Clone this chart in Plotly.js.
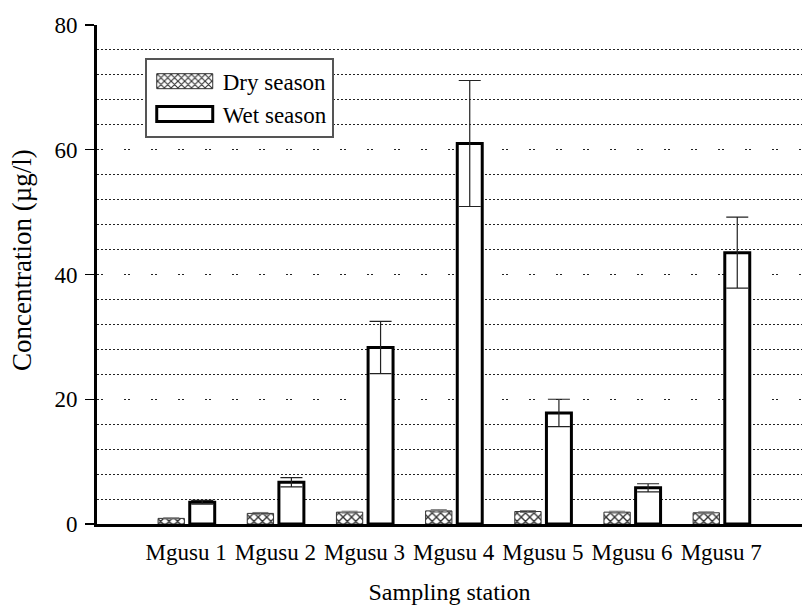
<!DOCTYPE html>
<html>
<head>
<meta charset="utf-8">
<script src="https://cdn.plot.ly/plotly-3.0.1.min.js"></script>
<style>html,body{margin:0;padding:0;background:#fff;}#chart{width:802px;height:605px;}</style>
</head>
<body>
<div id="chart"></div>
<script>
var stations = ["Mgusu 1", "Mgusu 2", "Mgusu 3", "Mgusu 4", "Mgusu 5", "Mgusu 6", "Mgusu 7"];
var dryValues = [0.9, 1.7, 1.9, 2.1, 2.0, 1.9, 1.8];
var dryErrors = [0.1, 0.15, 0.15, 0.2, 0.15, 0.15, 0.15];
var wetValues = [3.5, 6.7, 28.3, 61.0, 17.8, 5.8, 43.5];
var wetErrors = [0.3, 0.75, 4.2, 10.1, 2.2, 0.65, 5.7];
var yTicks = [0, 20, 40, 60, 80];
var yTitle = "Concentration (µg/l)";
var xTitle = "Sampling station";

var FONT = "'Liberation Serif', 'Times New Roman', Times, serif";

var minorVals = [];
for (var v = 4; v < 80; v += 4) { if (v % 20 !== 0) minorVals.push(v); }

var dry = {
  type: "bar", name: "Dry season", x: stations, y: dryValues,
  width: 0.295, offset: -0.315,
  marker: {color: "white", line: {color: "#333", width: 1},
    pattern: {shape: "x", size: 6, solidity: 0.4, fgcolor: "#333", bgcolor: "white", fillmode: "replace"}},
  error_y: {type: "data", array: dryErrors, visible: true, color: "#777", thickness: 1, width: 8}
};
var wet = {
  type: "bar", name: "Wet season", x: stations, y: wetValues,
  width: 0.28, offset: 0.04,
  marker: {color: "white", line: {color: "black", width: 3}},
  error_y: {type: "data", array: wetErrors, visible: true, color: "#222", thickness: 1.2, width: 11}
};

var layout = {
  width: 802, height: 605,
  margin: {l: 97, r: 0, t: 25, b: 81},
  paper_bgcolor: "white", plot_bgcolor: "white",
  font: {family: FONT, size: 23, color: "black"},
  showlegend: true,
  legend: {x: 0.068, y: 0.934, xanchor: "left", yanchor: "top",
    bgcolor: "white", bordercolor: "#555", borderwidth: 1.8,
    font: {family: FONT, size: 23, color: "black"}, itemwidth: 66, tracegroupgap: 0,
    entrywidth: 200, entrywidthmode: "pixels"},
  xaxis: {
    type: "category", range: [-1, 6.906],
    showline: true, linecolor: "black", linewidth: 3,
    ticks: "", showgrid: false, zeroline: false,
    tickfont: {family: FONT, size: 23, color: "black"},
    ticklabelstandoff: 5,
    title: {text: xTitle, font: {family: FONT, size: 24, color: "black"}, standoff: 21}
  },
  yaxis: {
    range: [0, 80], tickvals: yTicks, ticktext: yTicks.map(String),
    showline: true, linecolor: "black", linewidth: 3,
    ticks: "outside", ticklen: 9, tickwidth: 1.2, tickcolor: "black",
    zeroline: false,
    showgrid: true, gridcolor: "#222", gridwidth: 1, griddash: "2px,2px,2px,21px",
    minor: {tickmode: "array", tickvals: minorVals, showgrid: true, gridcolor: "#222", gridwidth: 1, griddash: "2px,2px", ticks: ""},
    tickfont: {family: FONT, size: 23, color: "black"},
    ticklabelstandoff: 3,
    title: {text: ""}
  },
  annotations: [{
    text: yTitle, xref: "paper", yref: "paper",
    x: (22 - 97) / 705, y: (524 - 260) / 499, xanchor: "center", yanchor: "middle",
    textangle: -90, showarrow: false,
    font: {family: FONT, size: 27, color: "black"}
  }],
  bargap: 0
};

Plotly.newPlot("chart", [dry, wet], layout, {staticPlot: true}).then(function(gd){
  var paths = gd.querySelectorAll(".legend .legendpoints path");
  paths.forEach(function(p){ p.setAttribute("d", "M28,7.5H-28V-7.5H28Z"); });
});
</script>
</body>
</html>
